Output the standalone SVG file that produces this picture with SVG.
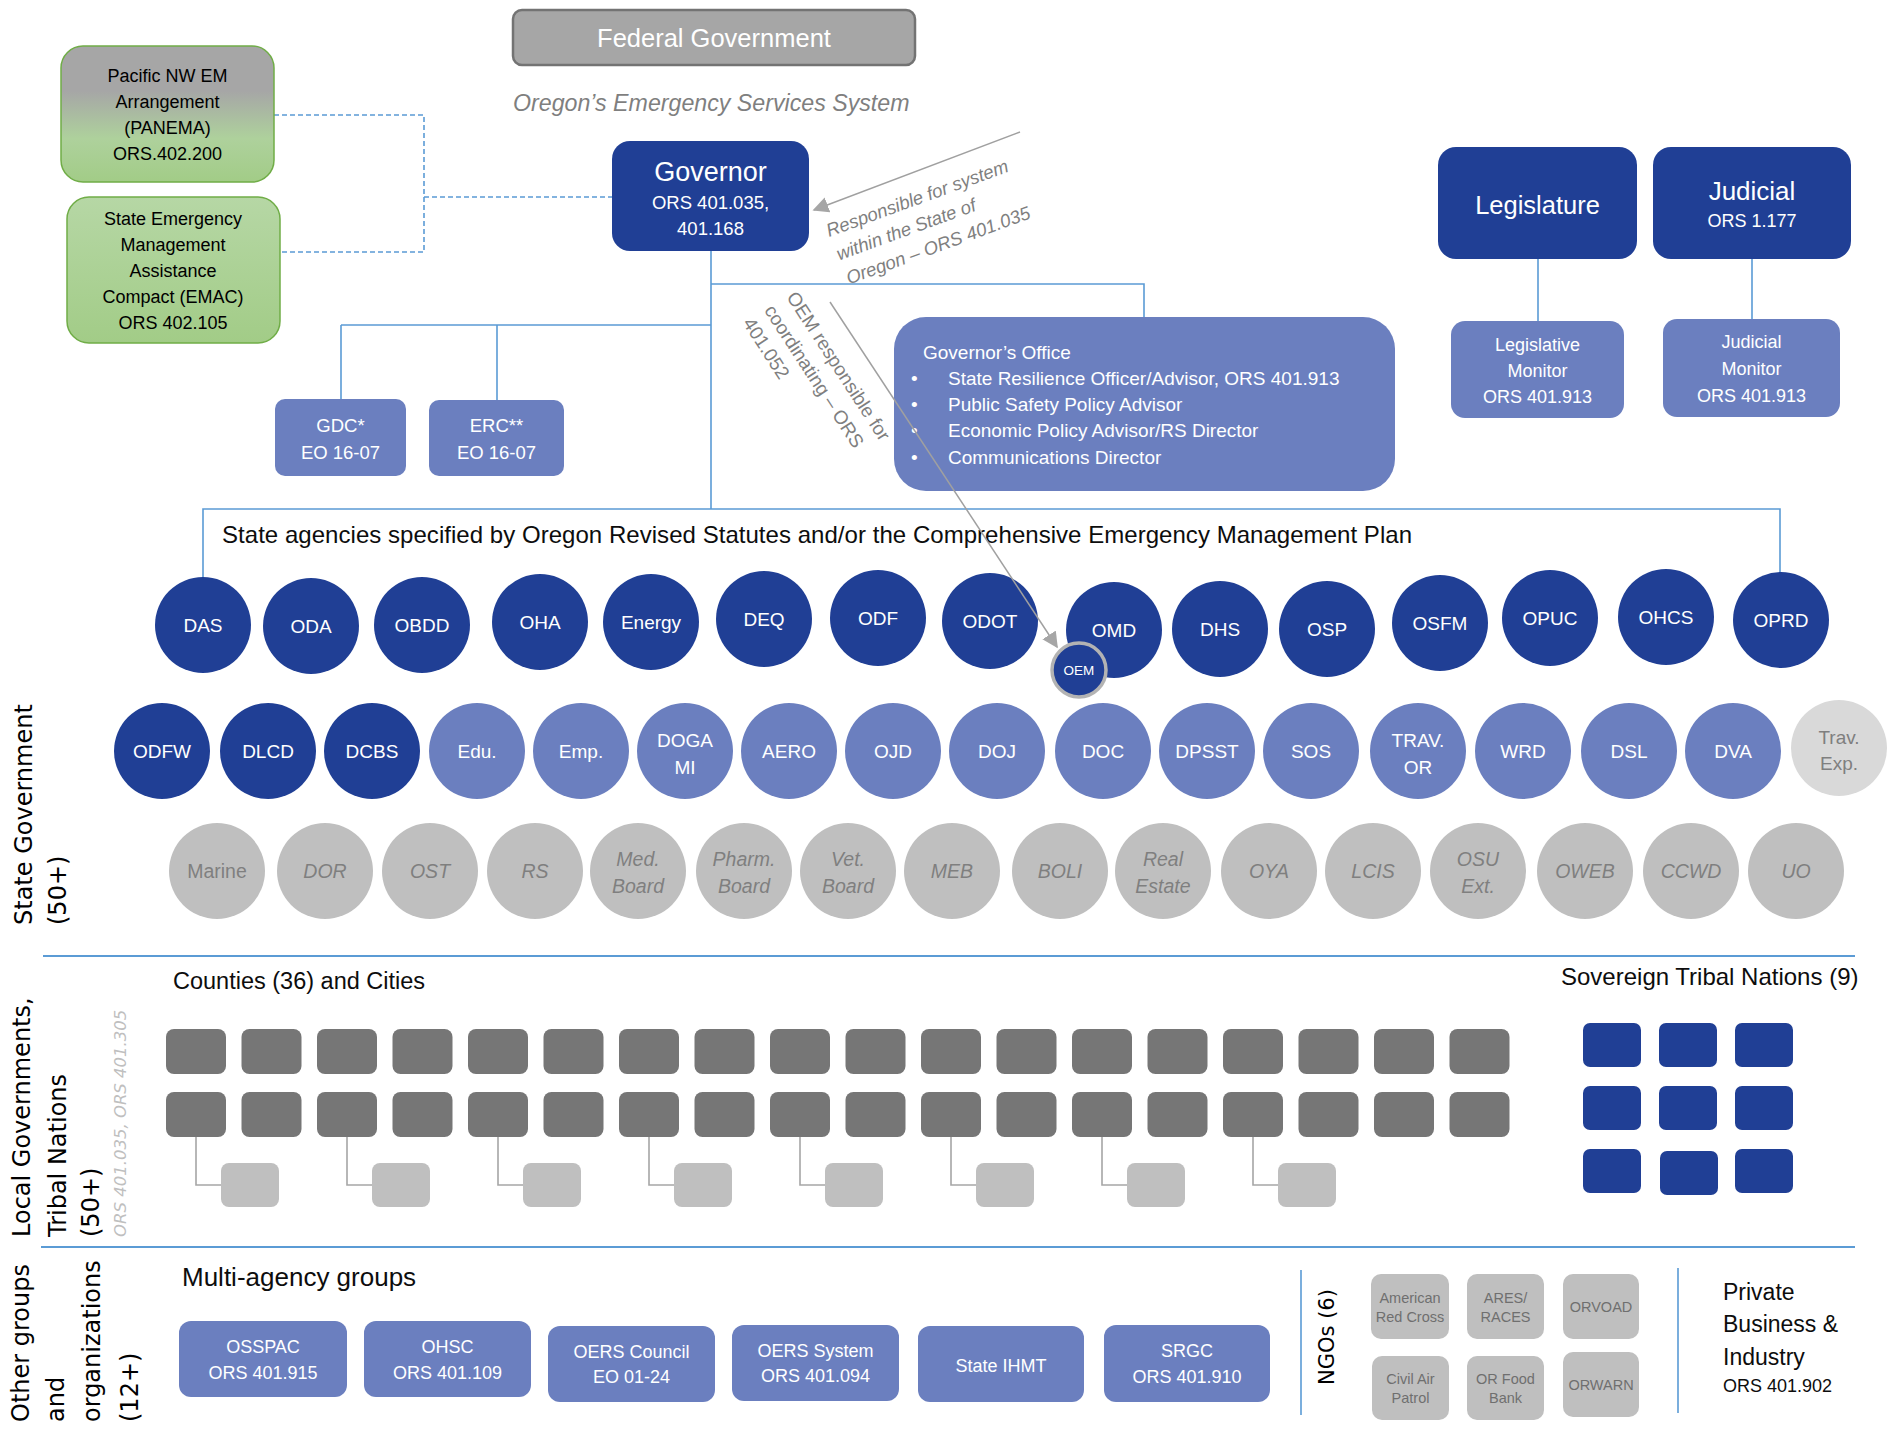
<svg xmlns="http://www.w3.org/2000/svg" width="1892" height="1429" viewBox="0 0 1892 1429">
<style>
text{font-family:"Liberation Sans",Arial,sans-serif}
.c{text-anchor:middle}
.w{fill:#ffffff}
.k{fill:#000000}
.g7{fill:#7f7f7f}
.dk{fill:#203f95}
.md{fill:#6b7fbf}
.gy{fill:#bfbfbf}
.lg{fill:#d9d9d9}
.cty{fill:#767676}
.lb{fill:none;stroke:#5b9bd5;stroke-width:1.6}
.sep{fill:none;stroke:#5b9bd5;stroke-width:2}
.dash{fill:none;stroke:#5b9bd5;stroke-width:1.6;stroke-dasharray:5 3}
.gl{fill:none;stroke:#a6a6a6;stroke-width:1.6}
.ar{fill:none;stroke:#a0a0a0;stroke-width:1.5}
.vt{font-family:"DejaVu Sans",Verdana,sans-serif;font-size:24px;fill:#000}
.f19{font-size:19px}
.f18{font-size:18px}
.it{font-style:italic}
</style>
<defs>
<linearGradient id="gPan" x1="0" y1="0" x2="0" y2="1">
<stop offset="0" stop-color="#a6a6a6"/>
<stop offset="0.33" stop-color="#a6a6a6"/>
<stop offset="0.68" stop-color="#aed19c"/>
<stop offset="1" stop-color="#a2cc87"/>
</linearGradient>
<linearGradient id="gEmac" x1="0" y1="0" x2="0" y2="1">
<stop offset="0" stop-color="#b6d7a5"/>
<stop offset="1" stop-color="#a2cc87"/>
</linearGradient>
<marker id="ah" viewBox="0 0 10 10" refX="9" refY="5" markerWidth="16" markerHeight="16" markerUnits="userSpaceOnUse" orient="auto">
<path d="M0,0 L10,5 L0,10 z" fill="#a6a6a6"/>
</marker>
<rect id="cty" width="60" height="45" rx="8" fill="#767676"/>
<rect id="sub" width="58" height="44" rx="8" fill="#bfbfbf"/>
<rect id="trb" width="58" height="44" rx="7" fill="#203f95"/>
</defs>

<!-- connectors -->
<g id="connectors">
<path class="dash" d="M274,115 H424 V252 H280 M424,197 H612"/>
<path class="lb" d="M711,251 V509 M711,284 H1144 V317 M341,325 H711 M341,325 V399 M497,325 V400"/>
<path class="lb" d="M203,577 V509 H1780 V572"/>
<path class="lb" d="M1538,259 V321 M1752,259 V319"/>
<path class="gl" d="M196,1137 V1185 H221 M347,1137 V1185 H372 M498,1137 V1185 H523 M649,1137 V1185 H674 M800,1137 V1185 H825 M951,1137 V1185 H976 M1102,1137 V1185 H1127 M1253,1137 V1185 H1278"/>
</g>

<!-- section separators -->
<g id="separators">
<path class="sep" d="M43,956 H1855 M41,1247 H1855"/>
<path class="lb" d="M1301,1270 V1415 M1678,1268 V1413"/>
</g>

<!-- side labels -->
<g id="side-labels">
<text class="vt" transform="translate(32,925) rotate(-90)">State Government</text>
<text class="vt" transform="translate(66,925) rotate(-90)">(50+)</text>
<text class="vt" transform="translate(30,1237) rotate(-90)">Local Governments,</text>
<text class="vt" transform="translate(66,1237) rotate(-90)">Tribal Nations</text>
<text class="vt" transform="translate(99,1237) rotate(-90)">(50+)</text>
<text class="vt" transform="translate(126,1237) rotate(-90)" style="font-size:16.5px;font-style:italic;fill:#bfbfbf">ORS 401.035, ORS 401.305</text>
<text class="vt" transform="translate(29,1422) rotate(-90)">Other groups</text>
<text class="vt" transform="translate(64,1422) rotate(-90)">and</text>
<text class="vt" transform="translate(100,1422) rotate(-90)">organizations</text>
<text class="vt" transform="translate(138,1422) rotate(-90)">(12+)</text>
<text class="vt" transform="translate(1334,1385) rotate(-90)" style="font-size:21px">NGOs (6)</text>
</g>

<!-- top -->
<g id="federal">
<rect x="513" y="10" width="402" height="55" rx="9" fill="#a6a6a6" stroke="#737373" stroke-width="2.5"/>
<text x="714" y="47" class="c w" style="font-size:25.5px">Federal Government</text>
</g>
<text x="513" y="111" class="g7 it" style="font-size:23.2px">Oregon’s Emergency Services System</text>

<g id="panema">
<rect x="61" y="46" width="213" height="136" rx="22" fill="url(#gPan)" stroke="#70ad47" stroke-width="1.5"/>
<text class="c k f18"><tspan x="167.5" y="82">Pacific NW EM</tspan><tspan x="167.5" y="108">Arrangement</tspan><tspan x="167.5" y="134">(PANEMA)</tspan><tspan x="167.5" y="160">ORS.402.200</tspan></text>
</g>
<g id="emac">
<rect x="67" y="197" width="213" height="146" rx="22" fill="url(#gEmac)" stroke="#70ad47" stroke-width="1.5"/>
<text class="c k f18"><tspan x="173" y="225">State Emergency</tspan><tspan x="173" y="251">Management</tspan><tspan x="173" y="277">Assistance</tspan><tspan x="173" y="303">Compact (EMAC)</tspan><tspan x="173" y="329">ORS 402.105</tspan></text>
</g>

<g id="governor">
<rect x="612" y="141" width="197" height="110" rx="18" class="dk"/>
<text x="710.5" y="181" class="c w" style="font-size:27px">Governor</text>
<text class="c w" style="font-size:18.5px"><tspan x="710.5" y="208.5">ORS 401.035,</tspan><tspan x="710.5" y="234.5">401.168</tspan></text>
</g>

<g id="gdc">
<rect x="275" y="399" width="131" height="77" rx="10" class="md"/>
<text class="c w" style="font-size:18.5px"><tspan x="340.5" y="431.5">GDC*</tspan><tspan x="340.5" y="458.5">EO 16-07</tspan></text>
</g>
<g id="erc">
<rect x="429" y="400" width="135" height="76" rx="10" class="md"/>
<text class="c w" style="font-size:18.5px"><tspan x="496.5" y="431.5">ERC**</tspan><tspan x="496.5" y="458.5">EO 16-07</tspan></text>
</g>

<g id="governors-office">
<rect x="894" y="317" width="501" height="174" rx="32" class="md"/>
<text x="923" y="358.5" class="w f19">Governor’s Office</text>
<g class="w f19">
<text x="911" y="384.5">•</text><text x="948" y="384.5">State Resilience Officer/Advisor, ORS 401.913</text>
<text x="911" y="410.5">•</text><text x="948" y="410.5">Public Safety Policy Advisor</text>
<text x="911" y="437">•</text><text x="948" y="437">Economic Policy Advisor/RS Director</text>
<text x="911" y="463.5">•</text><text x="948" y="463.5">Communications Director</text>
</g>
</g>

<g id="legislature">
<rect x="1438" y="147" width="199" height="112" rx="18" class="dk"/>
<text x="1537.5" y="214" class="c w" style="font-size:25.5px">Legislature</text>
</g>
<g id="judicial">
<rect x="1653" y="147" width="198" height="112" rx="18" class="dk"/>
<text x="1752" y="200" class="c w" style="font-size:26px">Judicial</text>
<text x="1752" y="227" class="c w f18">ORS 1.177</text>
</g>
<g id="legislative-monitor">
<rect x="1451" y="321" width="173" height="97" rx="14" class="md"/>
<text class="c w f18"><tspan x="1537.5" y="351">Legislative</tspan><tspan x="1537.5" y="377">Monitor</tspan><tspan x="1537.5" y="403">ORS 401.913</tspan></text>
</g>
<g id="judicial-monitor">
<rect x="1663" y="319" width="177" height="98" rx="14" class="md"/>
<text class="c w f18"><tspan x="1751.5" y="348">Judicial</tspan><tspan x="1751.5" y="375">Monitor</tspan><tspan x="1751.5" y="402">ORS 401.913</tspan></text>
</g>

<text x="222" y="543" style="font-size:24px;fill:#0d0d0d" textLength="1190" lengthAdjust="spacing">State agencies specified by Oregon Revised Statutes and/or the Comprehensive Emergency Management Plan</text>

<!-- row 1 agencies -->
<g id="row1" class="c w f19">
<g id="das"><circle cx="203" cy="625" r="48" class="dk"/><text x="203" y="632">DAS</text></g>
<g id="oda"><circle cx="311" cy="626" r="48" class="dk"/><text x="311" y="633">ODA</text></g>
<g id="obdd"><circle cx="422" cy="625" r="48" class="dk"/><text x="422" y="632">OBDD</text></g>
<g id="oha"><circle cx="540" cy="622" r="48" class="dk"/><text x="540" y="629">OHA</text></g>
<g id="energy"><circle cx="651" cy="622" r="48" class="dk"/><text x="651" y="629">Energy</text></g>
<g id="deq"><circle cx="764" cy="619" r="48" class="dk"/><text x="764" y="626">DEQ</text></g>
<g id="odf"><circle cx="878" cy="618" r="48" class="dk"/><text x="878" y="625">ODF</text></g>
<g id="odot"><circle cx="990" cy="621" r="48" class="dk"/><text x="990" y="628">ODOT</text></g>
<g id="omd"><circle cx="1114" cy="630" r="48" class="dk"/><text x="1114" y="637">OMD</text></g>
<g id="dhs"><circle cx="1220" cy="629" r="48" class="dk"/><text x="1220" y="636">DHS</text></g>
<g id="osp"><circle cx="1327" cy="629" r="48" class="dk"/><text x="1327" y="636">OSP</text></g>
<g id="osfm"><circle cx="1440" cy="623" r="48" class="dk"/><text x="1440" y="630">OSFM</text></g>
<g id="opuc"><circle cx="1550" cy="618" r="48" class="dk"/><text x="1550" y="625">OPUC</text></g>
<g id="ohcs"><circle cx="1666" cy="617" r="48" class="dk"/><text x="1666" y="624">OHCS</text></g>
<g id="oprd"><circle cx="1781" cy="620" r="48" class="dk"/><text x="1781" y="627">OPRD</text></g>
<g id="oem"><circle cx="1079" cy="670" r="27" class="dk" stroke="#b3b3b3" stroke-width="3.5"/><text x="1079" y="675" style="font-size:13.5px">OEM</text></g>
</g>

<!-- row 2 agencies -->
<g id="row2" class="c w f19">
<g id="odfw"><circle cx="162" cy="751" r="48" class="dk"/><text x="162" y="758">ODFW</text></g>
<g id="dlcd"><circle cx="268" cy="751" r="48" class="dk"/><text x="268" y="758">DLCD</text></g>
<g id="dcbs"><circle cx="372" cy="751" r="48" class="dk"/><text x="372" y="758">DCBS</text></g>
<g id="edu"><circle cx="477" cy="751" r="48" class="md"/><text x="477" y="758">Edu.</text></g>
<g id="emp"><circle cx="581" cy="751" r="48" class="md"/><text x="581" y="758">Emp.</text></g>
<g id="dogami"><circle cx="685" cy="751" r="48" class="md"/><text x="685" y="747">DOGA</text><text x="685" y="774">MI</text></g>
<g id="aero"><circle cx="789" cy="751" r="48" class="md"/><text x="789" y="758">AERO</text></g>
<g id="ojd"><circle cx="893" cy="751" r="48" class="md"/><text x="893" y="758">OJD</text></g>
<g id="doj"><circle cx="997" cy="751" r="48" class="md"/><text x="997" y="758">DOJ</text></g>
<g id="doc"><circle cx="1103" cy="751" r="48" class="md"/><text x="1103" y="758">DOC</text></g>
<g id="dpsst"><circle cx="1207" cy="751" r="48" class="md"/><text x="1207" y="758">DPSST</text></g>
<g id="sos"><circle cx="1311" cy="751" r="48" class="md"/><text x="1311" y="758">SOS</text></g>
<g id="travor"><circle cx="1418" cy="751" r="48" class="md"/><text x="1418" y="747">TRAV.</text><text x="1418" y="774">OR</text></g>
<g id="wrd"><circle cx="1523" cy="751" r="48" class="md"/><text x="1523" y="758">WRD</text></g>
<g id="dsl"><circle cx="1629" cy="751" r="48" class="md"/><text x="1629" y="758">DSL</text></g>
<g id="dva"><circle cx="1733" cy="751" r="48" class="md"/><text x="1733" y="758">DVA</text></g>
<g id="travexp"><circle cx="1839" cy="748" r="48" class="lg"/><text x="1839" y="744" class="g7">Trav.</text><text x="1839" y="770" class="g7">Exp.</text></g>
</g>

<!-- row 3 agencies -->
<g id="row3" class="c g7 it" style="font-size:19.5px">
<g id="marine"><circle cx="217" cy="871" r="48" class="gy"/><text x="217" y="878" style="font-style:normal">Marine</text></g>
<g id="dor"><circle cx="325" cy="871" r="48" class="gy"/><text x="325" y="878">DOR</text></g>
<g id="ost"><circle cx="430" cy="871" r="48" class="gy"/><text x="430" y="878">OST</text></g>
<g id="rs"><circle cx="535" cy="871" r="48" class="gy"/><text x="535" y="878">RS</text></g>
<g id="medboard"><circle cx="638" cy="871" r="48" class="gy"/><text x="638" y="866">Med.</text><text x="638" y="893">Board</text></g>
<g id="pharmboard"><circle cx="744" cy="871" r="48" class="gy"/><text x="744" y="866">Pharm.</text><text x="744" y="893">Board</text></g>
<g id="vetboard"><circle cx="848" cy="871" r="48" class="gy"/><text x="848" y="866">Vet.</text><text x="848" y="893">Board</text></g>
<g id="meb"><circle cx="952" cy="871" r="48" class="gy"/><text x="952" y="878">MEB</text></g>
<g id="boli"><circle cx="1060" cy="871" r="48" class="gy"/><text x="1060" y="878">BOLI</text></g>
<g id="realestate"><circle cx="1163" cy="871" r="48" class="gy"/><text x="1163" y="866">Real</text><text x="1163" y="893">Estate</text></g>
<g id="oya"><circle cx="1269" cy="871" r="48" class="gy"/><text x="1269" y="878">OYA</text></g>
<g id="lcis"><circle cx="1373" cy="871" r="48" class="gy"/><text x="1373" y="878">LCIS</text></g>
<g id="osuext"><circle cx="1478" cy="871" r="48" class="gy"/><text x="1478" y="866">OSU</text><text x="1478" y="893">Ext.</text></g>
<g id="oweb"><circle cx="1585" cy="871" r="48" class="gy"/><text x="1585" y="878">OWEB</text></g>
<g id="ccwd"><circle cx="1691" cy="871" r="48" class="gy"/><text x="1691" y="878">CCWD</text></g>
<g id="uo"><circle cx="1796" cy="871" r="48" class="gy"/><text x="1796" y="878">UO</text></g>
</g>

<!-- local governments -->
<text x="173" y="989" style="font-size:23.5px;fill:#0d0d0d">Counties (36) and Cities</text>
<text x="1561" y="985" style="font-size:24px;fill:#0d0d0d">Sovereign Tribal Nations (9)</text>
<g id="counties">
<use href="#cty" x="166" y="1029"/><use href="#cty" x="241.5" y="1029"/><use href="#cty" x="317" y="1029"/><use href="#cty" x="392.5" y="1029"/><use href="#cty" x="468" y="1029"/><use href="#cty" x="543.5" y="1029"/><use href="#cty" x="619" y="1029"/><use href="#cty" x="694.5" y="1029"/><use href="#cty" x="770" y="1029"/><use href="#cty" x="845.5" y="1029"/><use href="#cty" x="921" y="1029"/><use href="#cty" x="996.5" y="1029"/><use href="#cty" x="1072" y="1029"/><use href="#cty" x="1147.5" y="1029"/><use href="#cty" x="1223" y="1029"/><use href="#cty" x="1298.5" y="1029"/><use href="#cty" x="1374" y="1029"/><use href="#cty" x="1449.5" y="1029"/>
<use href="#cty" x="166" y="1092"/><use href="#cty" x="241.5" y="1092"/><use href="#cty" x="317" y="1092"/><use href="#cty" x="392.5" y="1092"/><use href="#cty" x="468" y="1092"/><use href="#cty" x="543.5" y="1092"/><use href="#cty" x="619" y="1092"/><use href="#cty" x="694.5" y="1092"/><use href="#cty" x="770" y="1092"/><use href="#cty" x="845.5" y="1092"/><use href="#cty" x="921" y="1092"/><use href="#cty" x="996.5" y="1092"/><use href="#cty" x="1072" y="1092"/><use href="#cty" x="1147.5" y="1092"/><use href="#cty" x="1223" y="1092"/><use href="#cty" x="1298.5" y="1092"/><use href="#cty" x="1374" y="1092"/><use href="#cty" x="1449.5" y="1092"/>
</g>
<g id="cities">
<use href="#sub" x="221" y="1163"/><use href="#sub" x="372" y="1163"/><use href="#sub" x="523" y="1163"/><use href="#sub" x="674" y="1163"/><use href="#sub" x="825" y="1163"/><use href="#sub" x="976" y="1163"/><use href="#sub" x="1127" y="1163"/><use href="#sub" x="1278" y="1163"/>
</g>
<g id="tribes">
<use href="#trb" x="1583" y="1023"/><use href="#trb" x="1659" y="1023"/><use href="#trb" x="1735" y="1023"/>
<use href="#trb" x="1583" y="1086"/><use href="#trb" x="1659" y="1086"/><use href="#trb" x="1735" y="1086"/>
<use href="#trb" x="1583" y="1149"/><use href="#trb" x="1660" y="1151"/><use href="#trb" x="1735" y="1149"/>
</g>

<!-- other groups -->
<text x="182" y="1286" style="font-size:26px;fill:#0d0d0d">Multi-agency groups</text>
<g id="osspac"><rect x="179" y="1321" width="168" height="76" rx="12" class="md"/><text class="c w f18"><tspan x="263" y="1353">OSSPAC</tspan><tspan x="263" y="1379">ORS 401.915</tspan></text></g>
<g id="ohsc"><rect x="364" y="1321" width="167" height="76" rx="12" class="md"/><text class="c w f18"><tspan x="447.5" y="1353">OHSC</tspan><tspan x="447.5" y="1379">ORS 401.109</tspan></text></g>
<g id="oers-council"><rect x="548" y="1326" width="167" height="76" rx="12" class="md"/><text class="c w f18"><tspan x="631.5" y="1358">OERS Council</tspan><tspan x="631.5" y="1383">EO 01-24</tspan></text></g>
<g id="oers-system"><rect x="732" y="1325" width="167" height="76" rx="12" class="md"/><text class="c w f18"><tspan x="815.5" y="1357">OERS System</tspan><tspan x="815.5" y="1382">ORS 401.094</tspan></text></g>
<g id="state-ihmt"><rect x="918" y="1326" width="166" height="76" rx="12" class="md"/><text x="1001" y="1372" class="c w f18">State IHMT</text></g>
<g id="srgc"><rect x="1104" y="1325" width="166" height="77" rx="12" class="md"/><text class="c w f18"><tspan x="1187" y="1357">SRGC</tspan><tspan x="1187" y="1383">ORS 401.910</tspan></text></g>

<g id="ngos" class="c" style="font-size:14.5px;fill:#6f6f6f">
<g id="redcross"><rect x="1371" y="1274" width="78" height="65" rx="10" class="gy"/><text><tspan x="1410" y="1303">American</tspan><tspan x="1410" y="1322">Red Cross</tspan></text></g>
<g id="ares"><rect x="1467" y="1274" width="77" height="65" rx="10" class="gy"/><text><tspan x="1505.5" y="1303">ARES/</tspan><tspan x="1505.5" y="1322">RACES</tspan></text></g>
<g id="orvoad"><rect x="1563" y="1274" width="76" height="65" rx="10" class="gy"/><text x="1601" y="1312">ORVOAD</text></g>
<g id="civilair"><rect x="1372" y="1356" width="77" height="64" rx="10" class="gy"/><text><tspan x="1410.5" y="1384">Civil Air</tspan><tspan x="1410.5" y="1403">Patrol</tspan></text></g>
<g id="orfood"><rect x="1467" y="1356" width="77" height="64" rx="10" class="gy"/><text><tspan x="1505.5" y="1384">OR Food</tspan><tspan x="1505.5" y="1403">Bank</tspan></text></g>
<g id="orwarn"><rect x="1563" y="1352" width="76" height="65" rx="10" class="gy"/><text x="1601" y="1390">ORWARN</text></g>
</g>

<g id="private" style="fill:#0d0d0d">
<text style="font-size:23px"><tspan x="1723" y="1300">Private</tspan><tspan x="1723" y="1332">Business &amp;</tspan><tspan x="1723" y="1365">Industry</tspan></text>
<text x="1723" y="1392" class="f18">ORS 401.902</text>
</g>

<!-- annotation arrows -->
<g id="annotations">
<line class="ar" x1="1020" y1="132" x2="814" y2="210" marker-end="url(#ah)"/>
<text class="g7 it" style="font-size:18.5px" transform="translate(829,237) rotate(-20)"><tspan x="0" y="0">Responsible for system</tspan><tspan x="1.5" y="25.5">within the State of</tspan><tspan x="2.5" y="51.5">Oregon – ORS 401.035</tspan></text>
<line class="ar" x1="830" y1="302" x2="1057" y2="647" marker-end="url(#ah)"/>
<text class="g7 f19" transform="translate(786,297) rotate(57)"><tspan x="0" y="0">OEM responsible for</tspan><tspan x="-1" y="26">coordinating – ORS</tspan><tspan x="-2" y="51">401.052</tspan></text>
</g>
</svg>
